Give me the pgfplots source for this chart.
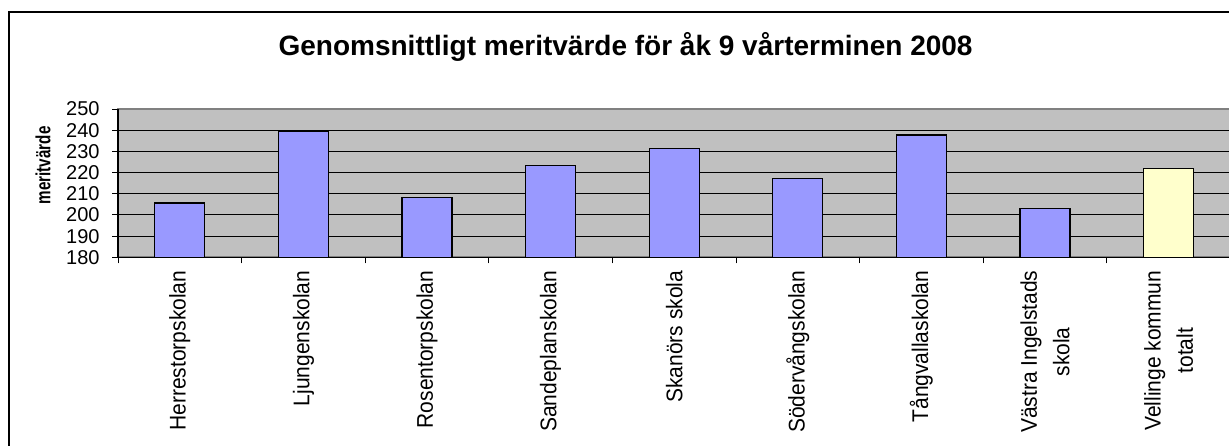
\documentclass[border=0pt]{standalone}
\usepackage{fontspec}
\setmainfont{Liberation Sans}
\usepackage{pgfplots}
\usepackage{pgfplotstable}
\pgfplotsset{compat=1.18}
\definecolor{bgsilver}{HTML}{C0C0C0}
\definecolor{barblue}{HTML}{9999FF}
\definecolor{baryellow}{HTML}{FFFFCC}
\definecolor{frgray}{HTML}{808080}
\pgfplotstableread{
x y
0 205.6
1 239.6
2 208.2
3 223.2
4 231.4
5 217.1
6 237.7
7 203.2
}\schools
\pgfplotstableread{
x y
8 222.0
}\total
\begin{document}
\begin{tikzpicture}
\useasboundingbox (0pt,0pt) rectangle (614.5pt,222.5pt);
\draw[black, line width=0.75pt] (4.5pt,-10pt) -- (4.5pt,216.5pt) -- (630pt,216.5pt);
\node[font=\fontsize{14}{16}\selectfont\bfseries, anchor=base, inner sep=0pt] at (312.8pt,194.5pt) {Genomsnittligt meritvärde för åk 9 vårterminen 2008};
\begin{axis}[
  at={(59pt,93.85pt)}, anchor=south west,
  width=556.2pt, height=74.15pt, scale only axis,
  xmin=-0.5, xmax=8.5, ymin=180, ymax=250,
  axis x line*=bottom, axis y line*=left,
  axis line style={-, black, line width=0.6pt},
  axis background/.style={fill=bgsilver, draw=frgray, line width=0.9pt},
  ybar, bar width=25pt, bar shift=0pt,
  tick align=outside,
  major tick length=0pt, minor tick length=3pt,
  tick style={black, line width=0.5pt},
  xtick={0,...,8},
  xticklabels={Herrestorpskolan, Ljungenskolan, Rosentorpskolan, Sandeplanskolan, Skanörs skola, Södervångskolan, Tångvallaskolan, {Västra Ingelstads\\skola}, {Vellinge kommun\\totalt}},
  minor xtick={-0.5,0.5,...,8.5},
  ytick={180,190,...,240},
  extra y ticks={250},
  extra y tick style={grid=none},
  minor ytick={180,190,...,250},
  ymajorgrids,
  grid style={black, line width=0.5pt},
  /pgf/number format/assume math mode=true,
  yticklabel style={font=\fontsize{10}{12}\selectfont, inner sep=0pt, xshift=-9pt},
  xticklabel style={yshift=-6.5pt, rotate=90, anchor=east, align=center, inner sep=0pt, yscale=1.08, font=\fontsize{10.5}{15}\selectfont},
  ylabel={meritvärde},
  ylabel style={at={(axis description cs:-0.0674,0.62)}, anchor=center, yscale=1.35, font=\fontsize{7.6}{9}\selectfont\bfseries},
]
\addplot[fill=barblue, draw=black, line width=0.6pt] table[x=x, y=y] {\schools};
\addplot[fill=baryellow, draw=black, line width=0.6pt] table[x=x, y=y] {\total};
\end{axis}
\end{tikzpicture}
\end{document}
